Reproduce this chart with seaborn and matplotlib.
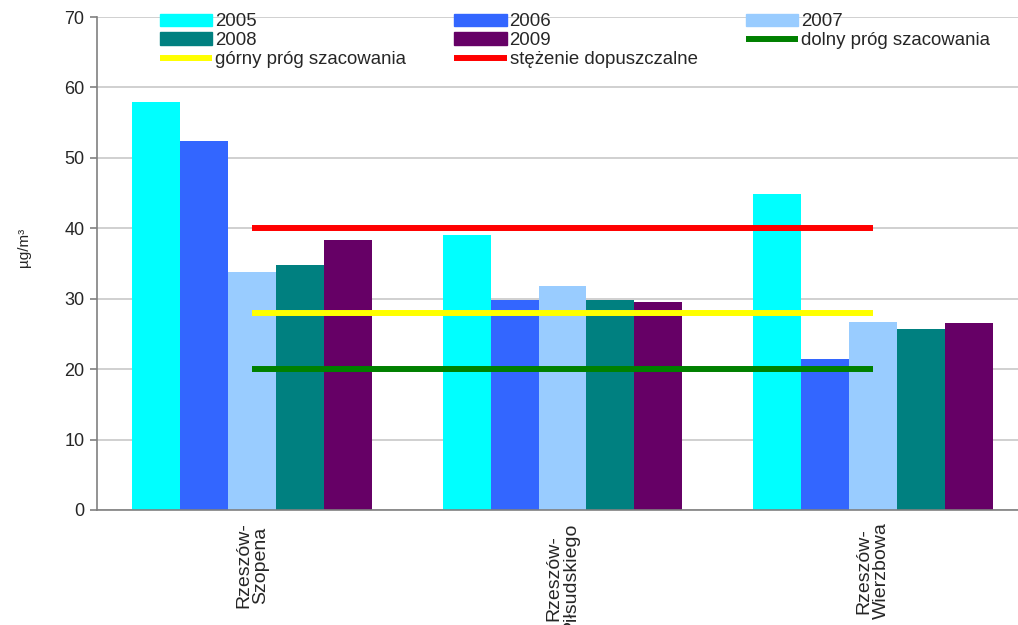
import matplotlib
matplotlib.use("Agg")
import matplotlib.pyplot as plt
import seaborn as sns
import pandas as pd
from matplotlib.patches import Patch
from matplotlib.lines import Line2D

# Stations and annual mean concentrations (µg/m³)
stations = ["Rzeszów-\nSzopena", "Rzeszów-\nPiłsudskiego", "Rzeszów-\nWierzbowa"]
years = ["2005", "2006", "2007", "2008", "2009"]
values_2005 = [57.9, 39.0, 44.9]
values_2006 = [52.4, 29.8, 21.4]
values_2007 = [33.8, 31.8, 26.7]
values_2008 = [34.8, 29.8, 25.7]
values_2009 = [38.3, 29.5, 26.5]

# Reference thresholds
limit_value = 40      # stężenie dopuszczalne
upper_threshold = 28  # górny próg szacowania
lower_threshold = 20  # dolny próg szacowania

year_colors = ["#00FFFF", "#3366FF", "#99CCFF", "#008080", "#660066"]

series = [values_2005, values_2006, values_2007, values_2008, values_2009]
rows = []
for yr, vals in zip(years, series):
    for st, v in zip(stations, vals):
        rows.append({"station": st, "year": yr, "value": v})
df = pd.DataFrame(rows)

sns.set_style("white")
plt.rcParams["font.family"] = ["Liberation Sans", "DejaVu Sans"]

fig = plt.figure(figsize=(10.18, 6.25), dpi=100)
ax = fig.add_axes([97 / 1018, 1 - 510 / 625, 931 / 1018, 493 / 625])

sns.barplot(data=df, x="station", y="value", hue="year", order=stations,
            hue_order=years, palette=dict(zip(years, year_colors)),
            width=0.773, linewidth=0, saturation=1, errorbar=None,
            legend=False, ax=ax, zorder=2)

xs = [0, len(stations) - 1]
ax.plot(xs, [limit_value] * 2, color="#FF0000", lw=4.3, zorder=3,
        solid_capstyle="butt")
ax.plot(xs, [upper_threshold] * 2, color="#FFFF00", lw=4.3, zorder=3,
        solid_capstyle="butt")
ax.plot(xs, [lower_threshold] * 2, color="#008000", lw=4.3, zorder=3,
        solid_capstyle="butt")

ax.set_xlim(-0.5, len(stations) - 0.5)
ax.set_ylim(0, 70)
ax.set_yticks(range(0, 71, 10))
ax.yaxis.grid(True, color="#c8c8c8", lw=1.2, zorder=0)
ax.set_axisbelow(True)

for side in ["top", "right"]:
    ax.spines[side].set_visible(False)
for side in ["left", "bottom"]:
    ax.spines[side].set_color("#808080")
    ax.spines[side].set_linewidth(1.2)

ax.set_xticks(range(len(stations)))
ax.set_xticklabels(stations, rotation=90, fontsize=14, va="top", ha="center",
                   multialignment="center", linespacing=1.0)
ax.set_xticks([i - 0.5 for i in range(len(stations) + 1)], minor=True)
ax.tick_params(axis="x", which="major", length=0, pad=9)
ax.tick_params(axis="x", which="minor", length=6, color="#808080", width=1.2)
ax.tick_params(axis="y", length=5, color="#808080", width=1.2, labelsize=13,
               pad=4, left=True)
ax.set_xlabel("")
ax.set_ylabel("µg/m³", fontsize=11)
ax.yaxis.set_label_coords(-0.071, 0.533)

handles = [
    Patch(color=year_colors[0]), Patch(color=year_colors[3]),
    Line2D([], [], color="#FFFF00", lw=4.3, solid_capstyle="butt"),
    Patch(color=year_colors[1]), Patch(color=year_colors[4]),
    Line2D([], [], color="#FF0000", lw=4.3, solid_capstyle="butt"),
    Patch(color=year_colors[2]),
    Line2D([], [], color="#008000", lw=4.3, solid_capstyle="butt"),
]
labels = ["2005", "2008", "górny próg szacowania",
          "2006", "2009", "stężenie dopuszczalne",
          "2007", "dolny próg szacowania"]
fig.legend(handles, labels, ncol=3, loc="upper left",
           bbox_to_anchor=(160 / 1018, 1 - 13.5 / 625), frameon=False,
           fontsize=13.4, handlelength=2.8, handleheight=0.68,
           handletextpad=0.16, labelspacing=0.1, columnspacing=2.6,
           borderaxespad=0, borderpad=0)

fig.savefig("out.png", dpi=100)
